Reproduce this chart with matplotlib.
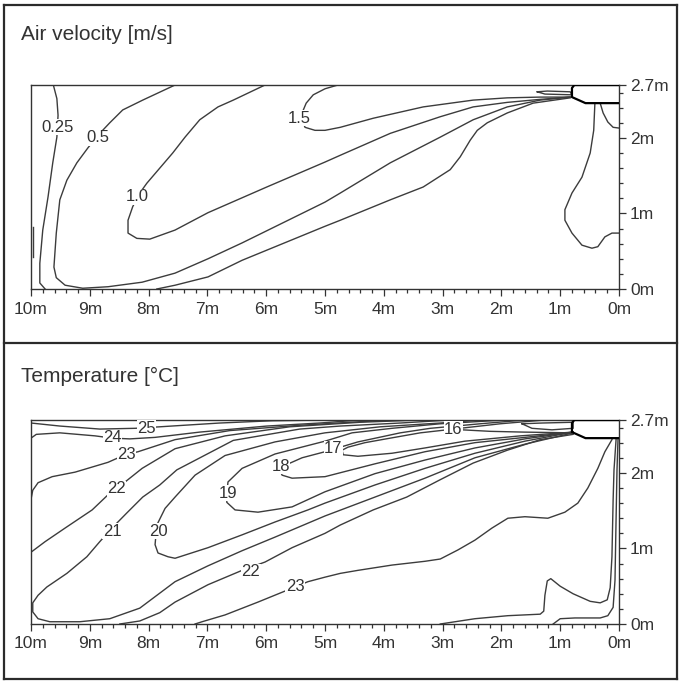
import matplotlib
matplotlib.use("Agg")
import matplotlib.pyplot as plt
from matplotlib.lines import Line2D
from matplotlib.ticker import MultipleLocator, FixedLocator, FixedFormatter

plt.rcParams["font.family"] = ["Liberation Sans", "DejaVu Sans"]

INK = "#333333"
LINE = "#3c3c3c"

X_TICKS = list(range(0, 11))
X_LABELS = [f"{v}m" for v in X_TICKS]
Y_TICKS = [0, 1, 2, 2.7]
Y_LABELS = ["0m", "1m", "2m", "2.7m"]

# diffuser outline at the ceiling, right wall (same in both panels)
DIFFUSER_X = [0.0, 0.76, 0.80, 0.80, 0.57, 0.0]
DIFFUSER_Y = [2.70, 2.70, 2.66, 2.54, 2.46, 2.46]

# ---- air velocity [m/s], lines (x in m, y in m)
VEL_025A_X = [9.62, 9.56, 9.54, 9.56, 9.63, 9.71, 9.80, 9.85, 9.85, 9.76]
VEL_025A_Y = [2.70, 2.52, 2.30, 2.01, 1.67, 1.22, 0.78, 0.34, 0.08, 0.0]
VEL_WALL_X = [9.97, 9.97]
VEL_WALL_Y = [0.42, 0.82]
VEL_025B_X = [7.86, 7.55, 6.99, 6.41, 5.00, 4.74, 3.89, 3.33, 2.87, 2.70, 2.53,
              2.41, 2.24, 1.90, 1.46, 0.83]
VEL_025B_Y = [0.0, 0.05, 0.16, 0.38, 0.83, 0.91, 1.18, 1.35, 1.58, 1.75, 1.97,
              2.10, 2.20, 2.33, 2.46, 2.53]
VEL_05_X = [7.55, 8.10, 8.44, 8.66, 8.83, 9.03, 9.22, 9.39, 9.51, 9.57, 9.61,
            9.57, 9.42, 9.12, 8.69, 8.11, 7.55, 6.99, 6.41, 5.00, 4.74, 3.89,
            3.04, 2.48, 1.90, 1.34, 0.83]
VEL_05_Y = [2.70, 2.50, 2.37, 2.20, 2.06, 1.87, 1.67, 1.44, 1.18, 0.74, 0.29,
            0.15, 0.05, 0.01, 0.03, 0.09, 0.21, 0.40, 0.61, 1.15, 1.27, 1.67,
            2.01, 2.24, 2.41, 2.50, 2.54]
VEL_10_X = [6.02, 6.56, 6.82, 7.13, 7.38, 7.59, 8.03, 8.15, 8.27, 8.35, 8.35,
            8.20, 7.98, 7.55, 6.99, 5.99, 5.00, 4.74, 3.89, 3.04, 2.48, 1.90,
            1.34, 0.83]
VEL_10_Y = [2.70, 2.50, 2.41, 2.24, 2.01, 1.80, 1.40, 1.27, 1.09, 0.91, 0.74,
            0.67, 0.66, 0.78, 1.01, 1.35, 1.68, 1.77, 2.06, 2.28, 2.41, 2.47,
            2.51, 2.54]
VEL_15_X = [4.78, 5.00, 5.20, 5.32, 5.39, 5.39, 5.34, 5.17, 5.00, 4.74, 4.18,
            3.33, 2.48, 1.90, 1.34, 0.83]
VEL_15_Y = [2.70, 2.65, 2.57, 2.46, 2.33, 2.24, 2.14, 2.10, 2.10, 2.14, 2.26,
            2.41, 2.50, 2.53, 2.54, 2.54]
VEL_JET_X = [1.39, 1.22, 0.83, 0.80, 1.26, 1.39]
VEL_JET_Y = [2.61, 2.62, 2.61, 2.57, 2.58, 2.61]
VEL_R1_X = [0.41, 0.43, 0.49, 0.63, 0.80, 0.92, 0.92, 0.80, 0.63, 0.46, 0.36,
            0.24, 0.12, 0.0]
VEL_R1_Y = [2.46, 2.10, 1.80, 1.48, 1.27, 1.05, 0.91, 0.74, 0.58, 0.54, 0.56,
            0.69, 0.74, 0.74]
VEL_R2_X = [0.32, 0.27, 0.19, 0.10, 0.0]
VEL_R2_Y = [2.46, 2.33, 2.21, 2.14, 2.13]

VEL_LABEL_TEXT = ["0.25", "0.5", "1.0", "1.5"]
VEL_LABEL_X = [9.54, 8.86, 8.20, 5.43]
VEL_LABEL_Y = [2.14, 2.00, 1.22, 2.26]

# ---- temperature [°C]
T25_X = [10.0, 9.51, 8.83, 8.23, 7.81, 6.79, 5.90, 4.93]
T25_Y = [2.66, 2.62, 2.58, 2.59, 2.61, 2.66, 2.69, 2.70]
T24_X = [10.0, 9.91, 9.51, 8.91, 8.62, 8.32, 7.89, 7.13, 5.99, 5.09, 4.40]
T24_Y = [2.46, 2.51, 2.53, 2.49, 2.46, 2.45, 2.47, 2.54, 2.62, 2.66, 2.70]
T23_X = [10.0, 9.97, 9.88, 9.64, 9.25, 8.69, 8.40, 8.18, 7.55, 6.62, 5.43,
         4.57, 3.89]
T23_Y = [1.65, 1.77, 1.87, 1.95, 2.01, 2.14, 2.24, 2.28, 2.44, 2.56, 2.63,
         2.67, 2.70]
T22A_X = [10.0, 9.76, 9.42, 8.96, 8.69, 8.57, 8.40, 8.11, 7.55, 6.70, 5.60,
          4.40, 3.38]
T22A_Y = [0.95, 1.09, 1.27, 1.51, 1.71, 1.77, 1.88, 2.06, 2.32, 2.49, 2.61,
          2.67, 2.70]
T22B_X = [8.49, 8.15, 7.81, 7.55, 6.99, 6.41, 6.02, 5.56, 5.00, 4.74, 4.18,
          3.61, 3.04, 2.48, 1.90, 1.34, 0.78]
T22B_Y = [0.0, 0.04, 0.15, 0.29, 0.52, 0.71, 0.82, 1.01, 1.20, 1.31, 1.51,
          1.68, 1.91, 2.13, 2.30, 2.44, 2.51]
T21_X = [2.87, 3.72, 4.74, 5.43, 6.56, 7.52, 7.81, 8.10, 8.37, 8.61, 8.83, 9.05,
         9.39, 9.73, 9.88, 9.97, 9.97, 9.88, 9.68, 9.17, 8.66, 8.15, 7.55,
         6.99, 6.41, 5.85, 5.00, 4.15, 3.30, 2.45, 1.60, 0.78]
T21_Y = [2.70, 2.66, 2.62, 2.58, 2.43, 2.04, 1.84, 1.68, 1.47, 1.28, 1.09, 0.89,
         0.67, 0.49, 0.38, 0.28, 0.16, 0.07, 0.03, 0.03, 0.07, 0.21, 0.56,
         0.77, 0.97, 1.15, 1.43, 1.68, 1.93, 2.20, 2.38, 2.53]
T20_X = [2.36, 3.04, 4.06, 5.00, 5.85, 6.70, 7.21, 7.55, 7.72, 7.86, 7.89,
         7.84, 7.67, 7.55, 6.99, 6.41, 5.85, 5.29, 5.00, 4.15, 3.30, 2.45,
         1.60, 0.78]
T20_Y = [2.70, 2.66, 2.61, 2.53, 2.41, 2.23, 1.97, 1.68, 1.53, 1.31, 1.05,
         0.94, 0.89, 0.87, 1.01, 1.18, 1.35, 1.51, 1.60, 1.84, 2.06, 2.26,
         2.42, 2.54]
T19_X = [1.94, 3.04, 3.86, 4.54, 5.00, 5.85, 6.41, 6.65, 6.67, 6.67, 6.53,
         6.14, 5.56, 5.00, 4.15, 3.30, 2.45, 1.60, 0.78]
T19_Y = [2.70, 2.65, 2.59, 2.53, 2.42, 2.25, 2.06, 1.88, 1.73, 1.61, 1.51,
         1.48, 1.55, 1.75, 1.99, 2.17, 2.33, 2.45, 2.54]
T18_X = [1.60, 2.36, 3.21, 3.72, 4.44, 5.00, 5.39, 5.68, 5.77, 5.73, 5.56,
         5.00, 4.15, 3.30, 2.45, 1.60, 0.78]
T18_Y = [2.70, 2.65, 2.59, 2.53, 2.41, 2.28, 2.20, 2.10, 2.04, 1.97, 1.93,
         1.95, 2.12, 2.28, 2.40, 2.47, 2.54]
T17_X = [1.26, 2.02, 2.70, 3.38, 3.89, 4.32, 4.61, 4.71, 4.69, 4.44, 3.86,
         3.30, 2.62, 1.68, 0.78]
T17_Y = [2.70, 2.65, 2.59, 2.53, 2.46, 2.40, 2.34, 2.30, 2.24, 2.22, 2.26,
         2.33, 2.42, 2.49, 2.54]
T16_X = [2.67, 2.19, 1.63, 0.80]
T16_Y = [2.57, 2.55, 2.54, 2.53]
T_JET_X = [1.65, 1.31, 0.78, 0.78, 1.14, 1.48, 1.65]
T_JET_Y = [2.65, 2.66, 2.67, 2.59, 2.57, 2.59, 2.65]
T23B_X = [7.21, 7.09, 6.70, 6.14, 5.73, 5.51, 5.29, 5.00, 4.74, 4.44, 3.86,
          3.30, 3.04, 2.74, 2.45, 2.16, 1.89, 1.60, 1.21, 0.92, 0.70, 0.53,
          0.36, 0.24, 0.12]
T23B_Y = [0.0, 0.03, 0.12, 0.29, 0.42, 0.49, 0.56, 0.62, 0.67, 0.71, 0.78,
          0.83, 0.86, 0.98, 1.11, 1.27, 1.40, 1.42, 1.40, 1.48, 1.60, 1.80,
          2.06, 2.28, 2.44]
T_P_X = [3.04, 2.45, 1.89, 1.34, 1.28, 1.26, 1.22, 1.16, 1.00, 0.78, 0.49,
         0.32, 0.20, 0.15, 0.12, 0.10, 0.085, 0.05]
T_P_Y = [0.0, 0.07, 0.11, 0.13, 0.17, 0.38, 0.57, 0.60, 0.50, 0.40, 0.30,
         0.28, 0.32, 0.48, 0.89, 1.64, 2.04, 2.44]
T_Q_X = [1.12, 1.00, 0.75, 0.32, 0.19, 0.10, 0.068, 0.05, 0.034, 0.017]
T_Q_Y = [0.0, 0.07, 0.08, 0.08, 0.11, 0.22, 0.58, 1.38, 2.04, 2.44]

T_LABEL_TEXT = ["25", "24", "23", "22", "21", "20", "19", "18", "17", "16",
                "22", "23"]
T_LABEL_X = [8.03, 8.61, 8.38, 8.55, 8.62, 7.84, 6.65, 5.75, 4.86, 2.82, 6.26,
             5.51]
T_LABEL_Y = [2.59, 2.47, 2.24, 1.79, 1.23, 1.23, 1.73, 2.09, 2.32, 2.58, 0.69,
             0.49]

VEL_LINES = [(VEL_025A_X, VEL_025A_Y), (VEL_WALL_X, VEL_WALL_Y),
             (VEL_025B_X, VEL_025B_Y), (VEL_05_X, VEL_05_Y),
             (VEL_10_X, VEL_10_Y), (VEL_15_X, VEL_15_Y),
             (VEL_JET_X, VEL_JET_Y), (VEL_R1_X, VEL_R1_Y), (VEL_R2_X, VEL_R2_Y)]
T_LINES = [(T25_X, T25_Y), (T24_X, T24_Y), (T23_X, T23_Y), (T22A_X, T22A_Y),
           (T22B_X, T22B_Y), (T21_X, T21_Y), (T20_X, T20_Y), (T19_X, T19_Y),
           (T18_X, T18_Y), (T17_X, T17_Y), (T16_X, T16_Y), (T_JET_X, T_JET_Y),
           (T23B_X, T23B_Y), (T_P_X, T_P_Y), (T_Q_X, T_Q_Y)]

W, H = 680, 682
fig = plt.figure(figsize=(W / 100, H / 100), dpi=100)


def draw_panel(rect, title, title_y, lines, texts, xs, ys):
    ax = fig.add_axes(rect)
    for lx, ly in lines:
        ax.plot(lx, ly, color=LINE, lw=1.0, solid_joinstyle="round")
    ax.plot(DIFFUSER_X, DIFFUSER_Y, color="black", lw=1.6, zorder=4)
    for s, x, y in zip(texts, xs, ys):
        ax.text(x, y, s, ha="center", va="center", fontsize=12, color=INK,
                zorder=5, bbox=dict(fc="white", ec="none", pad=0.3))
    ax.set_xlim(10, 0)
    ax.set_ylim(0, 2.7)
    ax.xaxis.set_major_locator(FixedLocator(X_TICKS))
    ax.xaxis.set_major_formatter(FixedFormatter(X_LABELS))
    ax.xaxis.set_minor_locator(MultipleLocator(0.2))
    ax.yaxis.tick_right()
    ax.yaxis.set_major_locator(FixedLocator(Y_TICKS))
    ax.yaxis.set_major_formatter(FixedFormatter(Y_LABELS))
    ax.yaxis.set_minor_locator(MultipleLocator(0.2))
    ax.tick_params(which="both", direction="out", colors=INK, width=0.9,
                   labelsize=12.5)
    ax.tick_params(which="major", length=5)
    ax.tick_params(which="minor", length=3)
    ax.tick_params(axis="x", pad=4)
    ax.tick_params(axis="y", pad=3)
    for sp in ax.spines.values():
        sp.set_color(INK)
        sp.set_linewidth(1.0)
    fig.text(21 / W, 1 - title_y / H, title, fontsize=15, color=INK,
             va="center", ha="left")
    return ax


draw_panel([31 / W, 1 - 289 / H, 588 / W, 204 / H], "Air velocity [m/s]", 35,
           VEL_LINES, VEL_LABEL_TEXT, VEL_LABEL_X, VEL_LABEL_Y)
draw_panel([31 / W, 1 - 624 / H, 588 / W, 204 / H], "Temperature [°C]", 376,
           T_LINES, T_LABEL_TEXT, T_LABEL_X, T_LABEL_Y)

# outer frame and the divider between the two panels
for (x0, y0, x1, y1) in [(4, 5, 677, 5), (4, 5, 4, 679), (677, 5, 677, 679),
                         (4, 679, 677, 679), (4, 343, 677, 343)]:
    fig.add_artist(Line2D([x0 / W, x1 / W], [1 - y0 / H, 1 - y1 / H],
                          color="#2b2b2b", lw=1.6))

fig.savefig("out.png", dpi=100)
